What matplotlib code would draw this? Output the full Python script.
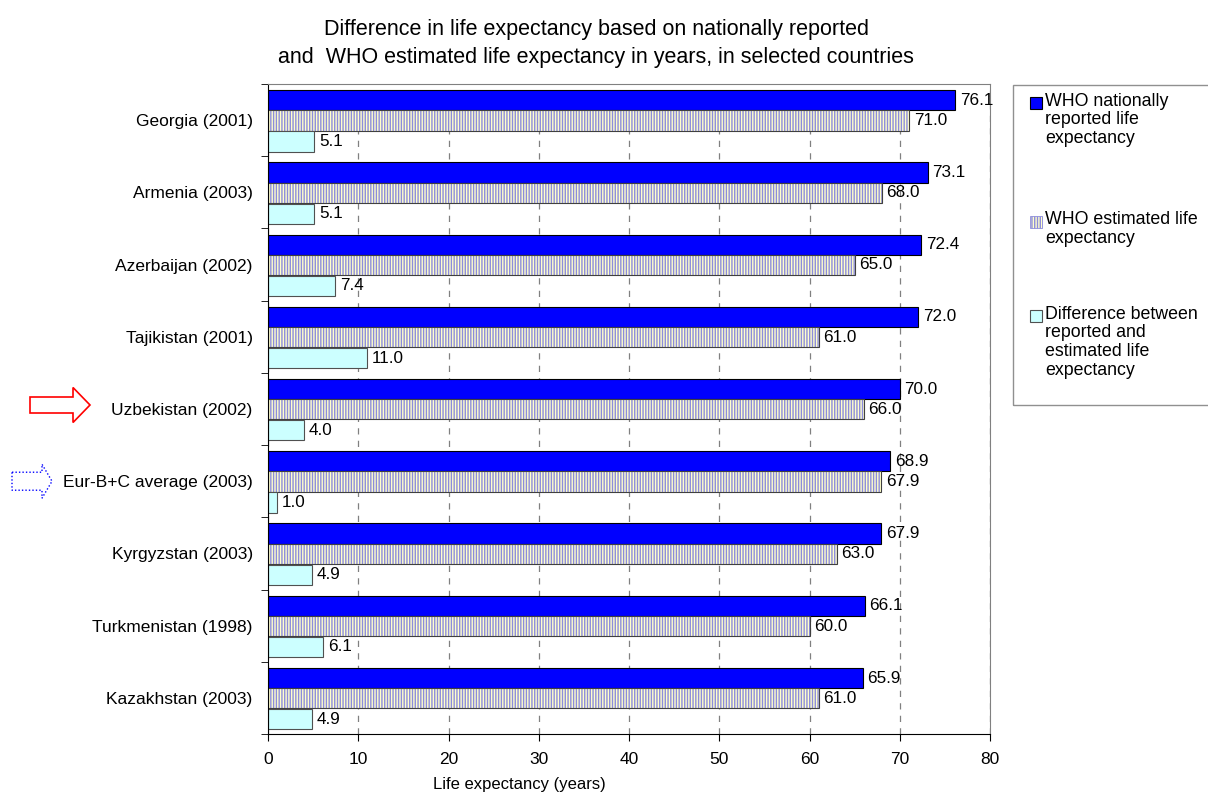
import matplotlib
matplotlib.use("Agg")
import matplotlib.pyplot as plt
from matplotlib.patches import Polygon, Rectangle
from matplotlib.transforms import ScaledTranslation

countries = ["Georgia (2001)", "Armenia (2003)", "Azerbaijan (2002)",
             "Tajikistan (2001)", "Uzbekistan (2002)", "Eur-B+C average (2003)",
             "Kyrgyzstan (2003)", "Turkmenistan (1998)", "Kazakhstan (2003)"]
reported = [76.1, 73.1, 72.4, 72.0, 70.0, 68.9, 67.9, 66.1, 65.9]
estimated = [71.0, 68.0, 65.0, 61.0, 66.0, 67.9, 63.0, 60.0, 61.0]
difference = [5.1, 5.1, 7.4, 11.0, 4.0, 1.0, 4.9, 6.1, 4.9]
xticks = [0, 10, 20, 30, 40, 50, 60, 70, 80]

legend_labels = ["WHO nationally\nreported life\nexpectancy",
                 "WHO estimated life\nexpectancy",
                 "Difference between\nreported and\nestimated life\nexpectancy"]

plt.rcParams["font.family"] = ["Liberation Sans", "DejaVu Sans"]
plt.rcParams["hatch.linewidth"] = 1.0

W, H = 1208, 796
fig = plt.figure(figsize=(W / 100, H / 100), dpi=100)
left, right, top, bottom = 268, 990, 84, 734
ax = fig.add_axes([left / W, 1 - bottom / H, (right - left) / W, (bottom - top) / H])

# bar styles: solid blue, striped, pale cyan
styles = [dict(color="#0000ff", edgecolor="black", linewidth=0.8),
          dict(color="#ffffcc", edgecolor="#8c8cdc", hatch="||||||", linewidth=0),
          dict(color="#ccffff", edgecolor="#505050", linewidth=0.8)]

y = list(range(len(countries)))
h = 0.28
y_rep = [i - 0.275 for i in y]
y_est = [i + 0.005 for i in y]
y_dif = [i + 0.295 for i in y]

ax.barh(y_rep, reported, h, **styles[0])
ax.barh(y_est, estimated, h, **styles[1])
ax.barh(y_est, estimated, h, fill=False, edgecolor="#404040", linewidth=0.8)
ax.barh(y_dif, difference, h, **styles[2])

for ys, vals in [(y_rep, reported), (y_est, estimated), (y_dif, difference)]:
    for yy, v in zip(ys, vals):
        ax.annotate(f"{v:.1f}", (v, yy), xytext=(3.5, 0), textcoords="offset points",
                    va="center", ha="left", fontsize=12.3)

ax.set_xlim(0, 80)
ax.set_ylim(len(countries) - 0.5, -0.5)
ax.set_xticks(xticks)
ax.set_yticks(y)
ax.set_yticklabels(countries, fontsize=12.5)
ax.set_yticks([i - 0.5 for i in range(len(countries) + 1)], minor=True)
ax.tick_params(axis="y", which="major", length=0, pad=11)
ax.tick_params(axis="y", which="minor", length=5, direction="out")
ax.tick_params(axis="x", length=5, direction="out", labelsize=12.5, pad=8)

ax.grid(axis="x", color="#808080", linestyle=(0, (5, 5)), linewidth=0.9)
ax.set_axisbelow(True)
for s in ["top", "right"]:
    ax.spines[s].set_color("#808080")
for s in ["left", "bottom"]:
    ax.spines[s].set_color("black")

fig.text(596 / W, 1 - 30 / H, "Difference in life expectancy based on nationally reported",
         ha="center", va="center", fontsize=15.5)
fig.text(596 / W, 1 - 57 / H, "and  WHO estimated life expectancy in years, in selected countries",
         ha="center", va="center", fontsize=15.5)
fig.text(433 / W, 1 - 785 / H, "Life expectancy (years)", ha="left", va="center", fontsize=12)

# legend box, entries beside their first text line
fig.add_artist(Rectangle((1013 / W, 1 - 405 / H), 0.2, 320 / H, transform=fig.transFigure,
                         fill=False, edgecolor="#909090", linewidth=1))
for style, label, ly in zip(styles, legend_labels, [103, 222, 316]):
    st = dict(style)
    st.pop("color")
    if "hatch" in st:
        st["linewidth"] = 0.6
    fig.add_artist(Rectangle((1030 / W, 1 - (ly + 6) / H), 12 / W, 12 / H,
                             transform=fig.transFigure, facecolor=style["color"], **st))
    fig.text(1045 / W, 1 - (ly - 10.5) / H, label, ha="left", va="top", fontsize=12.8,
             linespacing=1.13)


def arrow(idx, tip, base, tail, half_shaft, half_head, lift, **kw):
    # outline arrow in pixels, relative to the left axis at the category row
    trans = fig.dpi_scale_trans + ScaledTranslation(0, idx, ax.get_yaxis_transform())
    pts = [(tail, half_shaft), (base, half_shaft), (base, half_head), (tip, 0),
           (base, -half_head), (base, -half_shaft), (tail, -half_shaft)]
    pts = [(px / 100, (py + lift) / 100) for px, py in pts]
    fig.add_artist(Polygon(pts, closed=True, fill=False, transform=trans, clip_on=False, **kw))


arrow(countries.index("Uzbekistan (2002)"), -178, -195, -238, 8, 17.5, 4,
      edgecolor="red", linewidth=1.2)
arrow(countries.index("Eur-B+C average (2003)"), -216, -226, -256, 9, 17, 0,
      edgecolor="blue", linewidth=1, linestyle=(0, (1, 1.5)))

fig.savefig("out.png", dpi=100)
